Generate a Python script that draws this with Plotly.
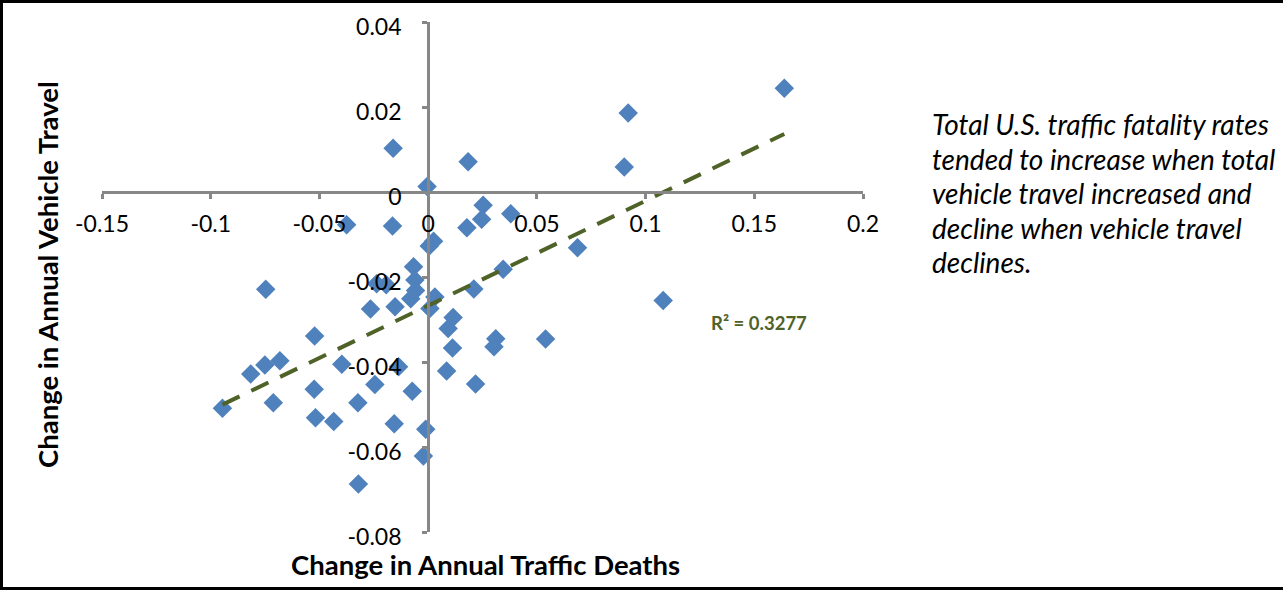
import numpy as np
import plotly.graph_objects as go

# Change in annual traffic deaths (x) vs change in annual vehicle travel (y)
deaths_change = [
    0.1638, 0.0920, 0.0902, 0.0184, -0.0161, -0.0005, 0.0253, 0.0246, 0.0380, 0.0178,
    -0.0164, -0.0375, 0.0005, 0.0025, 0.0687, 0.0345, -0.0067, -0.0061, -0.0058, -0.0080,
    0.0031, -0.0237, -0.0193, 0.0210, -0.0747, -0.0265, -0.0152, 0.0008, 0.0115, 0.0092,
    -0.0522, 0.0112, 0.0311, 0.0303, 0.0540, -0.0751, -0.0682, -0.0816, -0.0397, -0.0136,
    0.0085, -0.0524, -0.0245, -0.0073, 0.0218, -0.0946, -0.0712, -0.0323, -0.0518, -0.0434,
    -0.0156, -0.0011, -0.0022, -0.0321, 0.1081,
]
travel_change = [
    0.0244, 0.0186, 0.0059, 0.0071, 0.0103, 0.0013, -0.0031, -0.0064, -0.0051, -0.0084,
    -0.0080, -0.0077, -0.0127, -0.0116, -0.0131, -0.0182, -0.0176, -0.0207, -0.0232, -0.0251,
    -0.0247, -0.0216, -0.0218, -0.0228, -0.0229, -0.0275, -0.0270, -0.0274, -0.0295, -0.0321,
    -0.0339, -0.0367, -0.0345, -0.0364, -0.0346, -0.0407, -0.0397, -0.0428, -0.0405, -0.0411,
    -0.0421, -0.0464, -0.0453, -0.0469, -0.0452, -0.0509, -0.0496, -0.0496, -0.0531, -0.0540,
    -0.0545, -0.0558, -0.0621, -0.0687, -0.0255,
]
x_ticks = [-0.15, -0.1, -0.05, 0, 0.05, 0.1, 0.15, 0.2]
x_tick_labels = ["-0.15", "-0.1", "-0.05", "0", "0.05", "0.1", "0.15", "0.2"]
y_ticks = [-0.08, -0.06, -0.04, -0.02, 0, 0.02, 0.04]
y_tick_labels = ["-0.08", "-0.06", "-0.04", "-0.02", "0", "0.02", "0.04"]
r2_label = "R² = 0.3277"
x_title = "Change in Annual Traffic Deaths"
y_title = "Change in Annual Vehicle Travel"
note_lines = [
    "Total U.S. traffic fatality rates",
    "tended to increase when total",
    "vehicle travel increased and",
    "decline when vehicle travel",
    "declines.",
]

W, H = 1283, 590
ML, MR, MT, MB = 102, 420, 22, 58
PW, PH = W - ML - MR, H - MT - MB
XR = [-0.15, 0.2]
YR = [-0.08, 0.04]

def px_x(p):
    return (p - ML) / PW

def px_y(p):
    return (H - MB - p) / PH

BLUE = "#4F81BD"
OLIVE = "#4F6228"
GRAY = "#878787"
FONT = "Lato"

xs = np.array(deaths_change)
ys = np.array(travel_change)
slope, intercept = np.polyfit(xs, ys, 1)
tx = np.array([xs.min(), xs.max()])
ty = slope * tx + intercept

fig = go.Figure()
fig.add_trace(go.Scatter(
    x=deaths_change, y=travel_change, mode="markers",
    marker=dict(symbol="diamond", size=15, color=BLUE, line=dict(width=0)),
    showlegend=False,
))
fig.add_trace(go.Scatter(
    x=tx, y=ty, mode="lines",
    line=dict(color=OLIVE, width=4, dash="19px,13px"),
    hoverinfo="skip", showlegend=False,
))

x_axis_pos = (0 - YR[0]) / (YR[1] - YR[0])
y_axis_pos = (0 - XR[0]) / (XR[1] - XR[0])

fig.update_layout(
    width=W, height=H,
    margin=dict(l=ML, r=MR, t=MT, b=MB, pad=0),
    paper_bgcolor="white", plot_bgcolor="white",
    font=dict(family=FONT, size=23, color="black"),
    xaxis=dict(
        range=XR, anchor="free", position=x_axis_pos,
        tickmode="array", tickvals=x_ticks, ticktext=x_tick_labels,
        showgrid=False, zeroline=False,
        showline=True, linecolor=GRAY, linewidth=3,
        ticks="outside", ticklen=5, tickwidth=3, tickcolor=GRAY,
        ticklabelstandoff=5,
        tickfont=dict(family=FONT, size=23, color="black"),
    ),
    yaxis=dict(
        range=YR, anchor="free", position=y_axis_pos,
        tickmode="array", tickvals=y_ticks, ticktext=y_tick_labels,
        showgrid=False, zeroline=False,
        showline=True, linecolor=GRAY, linewidth=3,
        ticks="outside", ticklen=5, tickwidth=3, tickcolor=GRAY,
        ticklabelstandoff=16, ticklabelshift=5,
        tickfont=dict(family=FONT, size=23, color="black"),
    ),
)

annotations = [
    dict(text=f"<b>{x_title}</b>", xref="paper", yref="paper",
         x=px_x(486), y=px_y(564), xanchor="center", yanchor="middle",
         showarrow=False, font=dict(family=FONT, size=27.5, color="black")),
    dict(text=f"<b>{y_title}</b>", xref="paper", yref="paper",
         x=px_x(47), y=px_y(275), xanchor="center", yanchor="middle",
         textangle=-90, showarrow=False, font=dict(family=FONT, size=27.5, color="black")),
    dict(text=f"<b>{r2_label}</b>", xref="paper", yref="paper",
         x=px_x(709), y=px_y(323), xanchor="left", yanchor="middle",
         showarrow=False, font=dict(family=FONT, size=18.5, color=OLIVE)),
]
for i, line in enumerate(note_lines):
    annotations.append(dict(
        text=f"<i>{line}</i>", xref="paper", yref="paper",
        x=px_x(930), y=px_y(124 + 34.5 * i), xanchor="left", yanchor="middle",
        showarrow=False, font=dict(family=FONT, size=28, color="black"),
    ))
fig.update_layout(annotations=annotations)

# outer frame: top, left and bottom edges
frame = [
    (px_x(0), px_y(1.5), px_x(W + 10), px_y(1.5)),
    (px_x(1.5), px_y(0), px_x(1.5), px_y(H)),
    (px_x(0), px_y(588.5), px_x(W + 10), px_y(588.5)),
]
for x0, y0, x1, y1 in frame:
    fig.add_shape(type="line", xref="paper", yref="paper",
                  x0=x0, y0=y0, x1=x1, y1=y1,
                  line=dict(color="black", width=3), layer="above")

fig.write_html("out.html",
               config={"displayModeBar": False},
               post_script="document.body.style.margin='0px';document.body.style.overflow='hidden';")
